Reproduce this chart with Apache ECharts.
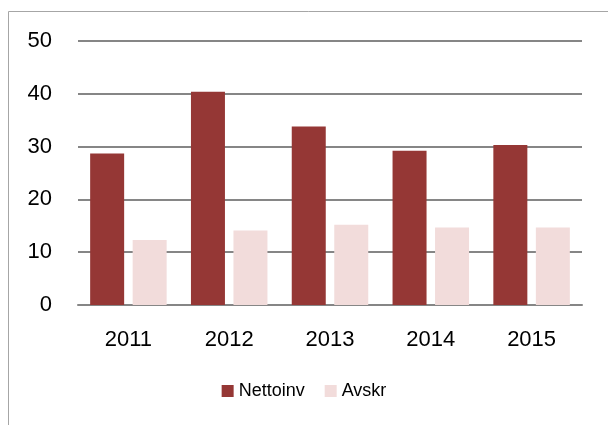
<!DOCTYPE html>
<html><head><meta charset="utf-8">
<script src="https://cdn.jsdelivr.net/npm/echarts@6/dist/echarts.min.js"></script>
<style>html,body{margin:0;padding:0;background:#fff}#c{width:608px;height:425px}</style>
</head><body><div id="c"></div>
<script>
const categories = ['2011','2012','2013','2014','2015'];
const nettoinv = [28.7, 40.4, 33.8, 29.2, 30.3];
const avskr = [12.3, 14.1, 15.2, 14.7, 14.7];
const yTicks = [0, 10, 20, 30, 40, 50];

const chart = echarts.init(document.getElementById('c'), null, {renderer:'canvas'});
const font = '"Liberation Sans", Arial, sans-serif';
chart.setOption({
  animation: false,
  backgroundColor: '#fff',
  graphic: [{type:'rect', shape:{x:8.5, y:11.5, width:700, height:500}, style:{fill:'none', stroke:'#a6a6a6', lineWidth:1}, silent:true}],
  grid: {left:78, right:26, top:41, bottom:120},
  legend: {
    bottom: 20, left: 'center', itemWidth: 12, itemHeight: 12, itemGap: 20,
    icon: 'rect',
    textStyle: {fontFamily: font, fontSize: 18, color: '#000'},
    data: ['Nettoinv','Avskr']
  },
  xAxis: {
    type: 'category', data: categories,
    axisLine: {lineStyle:{color:'#868686', width:2}},
    axisTick: {show:false},
    axisLabel: {fontFamily: font, fontSize: 22, color:'#000', margin: 24}
  },
  yAxis: {
    type: 'value', min: yTicks[0], max: yTicks[yTicks.length-1], interval: 10,
    axisLine: {show:false}, axisTick: {show:false},
    splitLine: {lineStyle:{color:'#868686', width:2}},
    axisLabel: {fontFamily: font, fontSize: 22, color:'#000', margin: 26}
  },
  series: [
    {name:'Nettoinv', type:'bar', data: nettoinv, barWidth: 34, barGap: '25%', itemStyle:{color:'#953735'}},
    {name:'Avskr', type:'bar', data: avskr, barWidth: 34, itemStyle:{color:'#F2DCDB'}}
  ]
});
</script></body></html>
